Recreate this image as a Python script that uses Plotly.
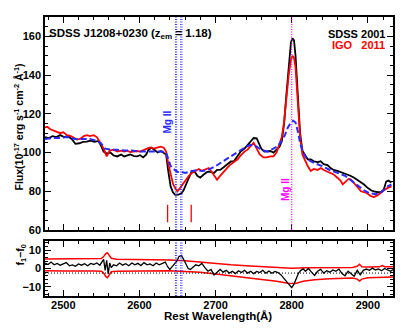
import plotly.graph_objects as go

# ---------------- data ----------------
sdss_wl = [2476, 2481, 2486, 2491, 2496, 2501, 2506, 2511, 2516, 2521, 2526, 2531, 2536, 2541, 2546, 2549, 2553, 2557, 2562, 2566,
           2571, 2576, 2580, 2584, 2588, 2593, 2597, 2601, 2605, 2609, 2612, 2616, 2620, 2624, 2628, 2632, 2635, 2638, 2641, 2644,
           2647, 2651, 2655, 2658, 2661, 2665, 2669, 2672, 2676, 2680, 2684, 2689, 2693, 2698, 2702, 2706, 2711, 2715, 2720, 2724,
           2729, 2733, 2738, 2742, 2746, 2750, 2754, 2757, 2760, 2764, 2768, 2772, 2776, 2780, 2784, 2787, 2790, 2793, 2796, 2799,
           2801, 2803, 2805, 2808, 2811, 2814, 2818, 2821, 2825, 2829, 2834, 2838, 2842, 2847, 2851, 2855, 2860, 2864, 2868, 2873,
           2877, 2882, 2886, 2891, 2895, 2899, 2904, 2908, 2913, 2917, 2921, 2924, 2927, 2931]
sdss_flux = [108, 107.5, 108.5, 108, 109, 108, 108.5, 107, 104.5, 104.8, 105.5, 105.6, 106.2, 105.5, 106, 104, 100.5, 99.5, 100, 98.5,
             98, 99, 98, 98.5, 99, 98.2, 98, 98.6, 97.5, 99, 101.5, 102.5, 101, 100, 100.8, 100, 99, 90, 82.5, 79.5,
             78.2, 78.3, 78.8, 80.5, 83.6, 87, 90.5, 90.5, 88, 87, 88.5, 90, 90, 89.5, 91, 91, 92.5, 94, 95.4, 95.5,
             98, 100.5, 102, 104, 106, 107.5, 107.3, 105, 102, 100.5, 100.5, 100.8, 100, 101.5, 103, 106, 115, 130, 146, 157,
             159, 158, 150, 130, 110, 101, 98, 96.5, 96.5, 95.5, 95, 95.5, 94, 93.5, 92, 91, 90.5, 90, 89.5, 88.5,
             88, 87, 86, 84.5, 83.5, 82, 80.5, 80, 79.5, 79.5, 81, 85, 85.5, 84.5]

igo_wl = [2476, 2479, 2483, 2487, 2491, 2496, 2500, 2505, 2510, 2514, 2518, 2522, 2527, 2531, 2535, 2540, 2544, 2549, 2553, 2557,
          2561, 2566, 2571, 2576, 2580, 2584, 2588, 2592, 2597, 2601, 2605, 2610, 2614, 2619, 2623, 2628, 2632, 2635, 2638, 2641,
          2644, 2647, 2650, 2653, 2657, 2661, 2665, 2669, 2674, 2678, 2682, 2686, 2691, 2695, 2699, 2702, 2706, 2711, 2715, 2720,
          2724, 2729, 2733, 2738, 2742, 2746, 2750, 2754, 2758, 2763, 2767, 2772, 2776, 2780, 2784, 2787, 2790, 2793, 2796, 2799,
          2801, 2803, 2805, 2808, 2811, 2814, 2818, 2821, 2825, 2829, 2834, 2838, 2842, 2847, 2851, 2855, 2860, 2864, 2867, 2871,
          2875, 2878, 2882, 2886, 2891, 2895, 2899, 2904, 2908, 2913, 2917, 2921, 2925, 2931]
igo_flux = [113, 113.3, 112, 111.5, 111, 110, 110.5, 109, 108.5, 107.5, 106.7, 107, 108.5, 109, 108.5, 109, 108, 105, 102, 98,
            101, 101.5, 100.5, 101, 100.5, 101, 100.3, 100.5, 100.8, 100.5, 101, 102, 102.6, 102, 102.5, 103, 102.5, 100.5, 94, 88,
            84, 81.5, 80, 81.5, 83.6, 86, 88, 89.5, 90.5, 91.5, 90.5, 91, 92, 90, 87.5, 86, 88, 90.5, 92, 94,
            95, 96.5, 98.5, 100.5, 101.5, 103.5, 105, 102, 99, 97.5, 97.5, 98, 98, 100, 104, 108, 116, 128, 140, 148,
            150, 149, 144, 126, 108, 99, 95.5, 93, 90.5, 91.5, 91, 92, 91, 90, 89.5, 88.7, 87, 85.5, 83.6, 85,
            86.5, 86, 84, 82, 80, 79.5, 79, 77.5, 77, 78, 79.5, 80.5, 81.5, 82.5]

scaled_wl = [2476, 2485, 2495, 2505, 2515, 2525, 2535, 2545, 2550, 2555, 2562, 2570, 2580, 2590, 2600, 2610, 2620, 2630, 2635, 2638,
             2641, 2645, 2650, 2655, 2660, 2665, 2670, 2676, 2682, 2690, 2700, 2710, 2720, 2730, 2740, 2746, 2752, 2760, 2768, 2776,
             2782, 2787, 2791, 2795, 2799, 2802, 2805, 2808, 2811, 2815, 2820, 2830, 2840, 2850, 2860, 2870, 2880, 2888, 2895, 2902,
             2910, 2918, 2926, 2931]
scaled_flux = [107, 107.5, 107.5, 108, 107, 107, 107, 106, 104.5, 102, 101.5, 101.5, 101, 101, 100.5, 100.5, 100.5, 100.5, 100, 97,
               93, 91.5, 90, 90, 89.5, 90, 90.5, 91, 90.5, 91, 93, 95.5, 98, 100.5, 103, 104, 103.5, 101.5, 100.5, 102,
               103.5, 106, 109, 113, 115.5, 116.4, 115.5, 111, 105, 100, 96.5, 94.5, 93, 91, 89.5, 88, 85, 82.5, 80.5, 79,
               78.5, 79.5, 82.5, 83.5]

diff_wl = [2476, 2480, 2484, 2488, 2492, 2496, 2500, 2504, 2508, 2512, 2516, 2520, 2524, 2528, 2532, 2536, 2540, 2544, 2548, 2551,
           2553, 2555, 2557, 2559, 2561, 2563, 2566, 2570, 2574, 2578, 2582, 2586, 2590, 2594, 2598, 2602, 2606, 2610, 2614, 2618,
           2622, 2626, 2630, 2634, 2637, 2640, 2643, 2646, 2649, 2652, 2655, 2658, 2661, 2664, 2667, 2670, 2674, 2678, 2682, 2686,
           2690, 2694, 2698, 2702, 2706, 2710, 2714, 2718, 2722, 2726, 2730, 2734, 2738, 2742, 2746, 2750, 2754, 2758, 2762, 2766,
           2770, 2774, 2778, 2782, 2786, 2790, 2794, 2797, 2800, 2803, 2806, 2809, 2812, 2815, 2818, 2822, 2826, 2830, 2834, 2838,
           2842, 2846, 2850, 2854, 2858, 2862, 2866, 2870, 2874, 2878, 2882, 2886, 2890, 2894, 2898, 2902, 2906, 2910, 2914, 2918,
           2922, 2926, 2930, 2933]
diff_val = [3.0, 2.2, 3.5, 2.0, 2.8, 1.8, 2.5, 3.2, 1.5, 2.0, 1.2, 2.5, 1.8, 2.6, 1.5, 2.8, 2.2, 3.0, 1.8, 3.5,
            5.0, -1.0, 4.5, -3.0, 3.0, 0.5, 2.0, 1.5, 3.0, 1.8, 2.6, 1.5, 3.0, 2.0, 2.8, 1.6, 3.2, 2.0, 2.5, 1.5,
            3.0, 2.0, 2.8, 3.5, 1.0, -0.5, 1.0, 2.5, 4.0, 6.5, 7.2, 5.0, 2.0, 0.0, -0.5, 0.5, 2.0, 1.5, 2.8, 0.5,
            -1.5, -0.5, -3.5, -2.0, -0.5, -2.0, -1.0, -2.5, -1.5, -2.8, -1.2, -2.2, -1.0, -2.5, -1.5, -2.8, -1.6, -2.2, -1.0, -2.6,
            -1.4, -2.6, -1.6, -2.2, -3.5, -5.5, -7.5, -9.5, -10.5, -8.5, -5.0, -2.5, -1.0, -0.2, -1.5, 0.0, -2.0, -3.8, -1.5, -0.5,
            -2.5, -1.2, -2.0, -0.8, -1.5, -0.3, -2.8, -4.0, -1.5, -3.0, -4.2, -1.0, -3.5, -1.0, -0.3, -1.0, 0.2, -0.8, -0.2, -1.2,
            0.0, -0.8, -1.5, -0.5]

env_up_wl = [2476, 2500, 2540, 2550, 2553, 2556, 2558, 2560, 2563, 2570, 2600, 2640, 2660, 2680, 2700, 2720, 2740, 2760, 2780, 2800,
             2820, 2850, 2880, 2886, 2889, 2892, 2900, 2915, 2919, 2922, 2933]
env_up_val = [5.2, 5.2, 5.2, 5.4, 6.5, 8.2, 8.5, 7.5, 5.6, 5.0, 4.9, 4.6, 4.2, 3.4, 2.6, 2.0, 1.5, 1.0, 0.5, 0.2,
              0.4, 0.5, 0.6, 1.2, 2.3, 1.0, 0.8, 0.9, 1.6, 1.0, 1.0]
env_lo_wl = [2476, 2500, 2540, 2550, 2553, 2556, 2558, 2560, 2563, 2570, 2600, 2640, 2660, 2680, 2700, 2720, 2740, 2760, 2780, 2795,
             2805, 2815, 2830, 2850, 2880, 2886, 2889, 2892, 2900, 2933]
env_lo_val = [-1.2, -1.4, -1.3, -1.5, -2.5, -4.5, -5.0, -3.5, -1.8, -1.5, -1.3, -1.2, -1.6, -2.0, -3.0, -4.0, -5.0, -5.8, -7.0, -8.0,
              -8.2, -7.0, -6.2, -5.6, -5.2, -5.8, -6.8, -5.8, -5.0, -4.7]

mean_level = -2.5
absorber_lines = [2647.3, 2648.9, 2654.2, 2655.8]
emission_line = 2800
red_marks = [2637, 2668]
red_mark_span = [64, 73]

x_ticks = [2500, 2600, 2700, 2800, 2900]
main_y_ticks = [60, 80, 100, 120, 140, 160]
diff_y_ticks = [-10, 0, 10]

# ---------------- figure ----------------
BLACK = "#000000"
RED = "#ff0000"
BLUE = "#2a2aff"
MAG = "#ff00ff"
FONT = "Liberation Sans"

fig = go.Figure()

# main panel (x2, y2)
fig.add_trace(go.Scatter(x=sdss_wl, y=sdss_flux, mode="lines", line=dict(color=BLACK, width=1.8),
                         xaxis="x2", yaxis="y2", showlegend=False))
fig.add_trace(go.Scatter(x=igo_wl, y=igo_flux, mode="lines", line=dict(color=RED, width=1.8),
                         xaxis="x2", yaxis="y2", showlegend=False))
fig.add_trace(go.Scatter(x=scaled_wl, y=scaled_flux, mode="lines", line=dict(color=BLUE, width=2, dash="6px,3px"),
                         xaxis="x2", yaxis="y2", showlegend=False))

# difference panel (x, y)
fig.add_trace(go.Scatter(x=env_up_wl, y=env_up_val, mode="lines", line=dict(color=RED, width=1.5),
                         xaxis="x", yaxis="y", showlegend=False))
fig.add_trace(go.Scatter(x=env_lo_wl, y=env_lo_val, mode="lines", line=dict(color=RED, width=1.5),
                         xaxis="x", yaxis="y", showlegend=False))
fig.add_trace(go.Scatter(x=[diff_wl[0], diff_wl[-1]], y=[mean_level, mean_level], mode="lines",
                         line=dict(color=BLACK, width=1, dash="1px,2px"), xaxis="x", yaxis="y", showlegend=False))
fig.add_trace(go.Scatter(x=diff_wl, y=diff_val, mode="lines", line=dict(color=BLACK, width=1.3),
                         xaxis="x", yaxis="y", showlegend=False))

shapes = []
for xv in absorber_lines:
    for yr in ("y2 domain", "y domain"):
        xr = "x2" if yr.startswith("y2") else "x"
        shapes.append(dict(type="line", xref=xr, yref=yr, x0=xv, x1=xv, y0=0, y1=1,
                           line=dict(color=BLUE, width=1, dash="1px,1.5px")))
shapes.append(dict(type="line", xref="x2", yref="y2 domain", x0=emission_line, x1=emission_line, y0=0, y1=1,
                   line=dict(color=MAG, width=1.2, dash="1px,1.5px")))
for xv in red_marks:
    shapes.append(dict(type="line", xref="x2", yref="y2", x0=xv, x1=xv, y0=red_mark_span[0], y1=red_mark_span[1],
                       line=dict(color=RED, width=1.3)))

# page body adds an 8 px offset; lay out in window pixels and subtract it
OFF = 8
W, H = 415 - OFF, 332 - OFF
ML, MT = 45 - OFF, 17 - OFF
PW, PH = 348, 279
MR, MB = W - ML - PW, H - MT - PH


def px(xp):
    return (xp - OFF - ML) / PW


def py(yp):
    return (H - MB - (yp - OFF)) / PH


ann = []
ann.append(dict(text="SDSS J1208+0230 (z<sub>em</sub> = 1.18)", xref="paper", yref="paper", x=px(47), y=py(34),
                xanchor="left", yanchor="middle", showarrow=False, font=dict(size=11.5, color=BLACK)))
ann.append(dict(text="SDSS 2001", xref="paper", yref="paper", x=px(387), y=py(34),
                xanchor="right", yanchor="middle", showarrow=False, font=dict(size=11, color=BLACK)))
ann.append(dict(text="IGO\u00a0\u00a0 2011", xref="paper", yref="paper", x=px(387), y=py(45),
                xanchor="right", yanchor="middle", showarrow=False, font=dict(size=11, color=RED)))
ann.append(dict(text="Mg II", xref="x2", yref="y2", x=2637.5, y=116, textangle=-90,
                showarrow=False, font=dict(size=10, color=BLUE)))
ann.append(dict(text="Mg II", xref="x2", yref="y2", x=2792, y=81, textangle=-90,
                showarrow=False, font=dict(size=10, color=MAG)))
ann.append(dict(text="Flux(10<sup>-17</sup> erg s<sup>-1</sup> cm<sup>-2</sup> Å<sup>-1</sup>)", xref="paper", yref="paper",
                x=px(10), y=py(127), textangle=-90, showarrow=False, font=dict(size=10.5, color=BLACK)))
ann.append(dict(text="f<sub>1</sub>−f<sub>0</sub>", xref="paper", yref="paper",
                x=px(11), y=py(268), textangle=-90, showarrow=False, font=dict(size=10.5, color=BLACK)))
ann.append(dict(text="Rest Wavelength(Å)", xref="paper", yref="paper",
                x=px(218), y=py(323.5), showarrow=False, font=dict(size=11.5, color=BLACK)))

axis_common = dict(showline=True, linecolor=BLACK, linewidth=1.5, mirror="allticks", ticks="inside",
                   ticklen=6, tickwidth=1.2, tickcolor=BLACK, showgrid=False, zeroline=False, automargin=False,
                   tickfont=dict(size=11, color=BLACK, family=FONT, weight="bold"))

split_low = (H - MB - (241 - OFF)) / PH
split_high = (H - MB - (230 - OFF)) / PH

fig.update_layout(
    width=W, height=H,
    margin=dict(l=ML, r=MR, t=MT, b=MB, autoexpand=False),
    paper_bgcolor="white", plot_bgcolor="white",
    font=dict(family=FONT, color=BLACK, weight="bold"),
    showlegend=False,
    xaxis=dict(domain=[0, 1], anchor="y", range=[2476, 2933], tickvals=x_ticks, ticklabelstandoff=-2,
               minor=dict(dtick=20, tick0=2500, ticks="inside", ticklen=3, tickcolor=BLACK), **axis_common),
    xaxis2=dict(domain=[0, 1], anchor="y2", range=[2476, 2933], tickvals=x_ticks, showticklabels=False,
                matches="x", minor=dict(dtick=20, tick0=2500, ticks="inside", ticklen=3, tickcolor=BLACK), **axis_common),
    yaxis=dict(domain=[0, split_low], anchor="x", range=[-15, 15], tickvals=diff_y_ticks,
               minor=dict(dtick=2, tick0=0, ticks="inside", ticklen=3, tickcolor=BLACK), **axis_common),
    yaxis2=dict(domain=[split_high, 1], anchor="x2", range=[60, 170], tickvals=main_y_ticks,
                minor=dict(dtick=5, tick0=60, ticks="inside", ticklen=3, tickcolor=BLACK), **axis_common),
    shapes=shapes,
    annotations=ann,
)

fig.write_html("out.html")
